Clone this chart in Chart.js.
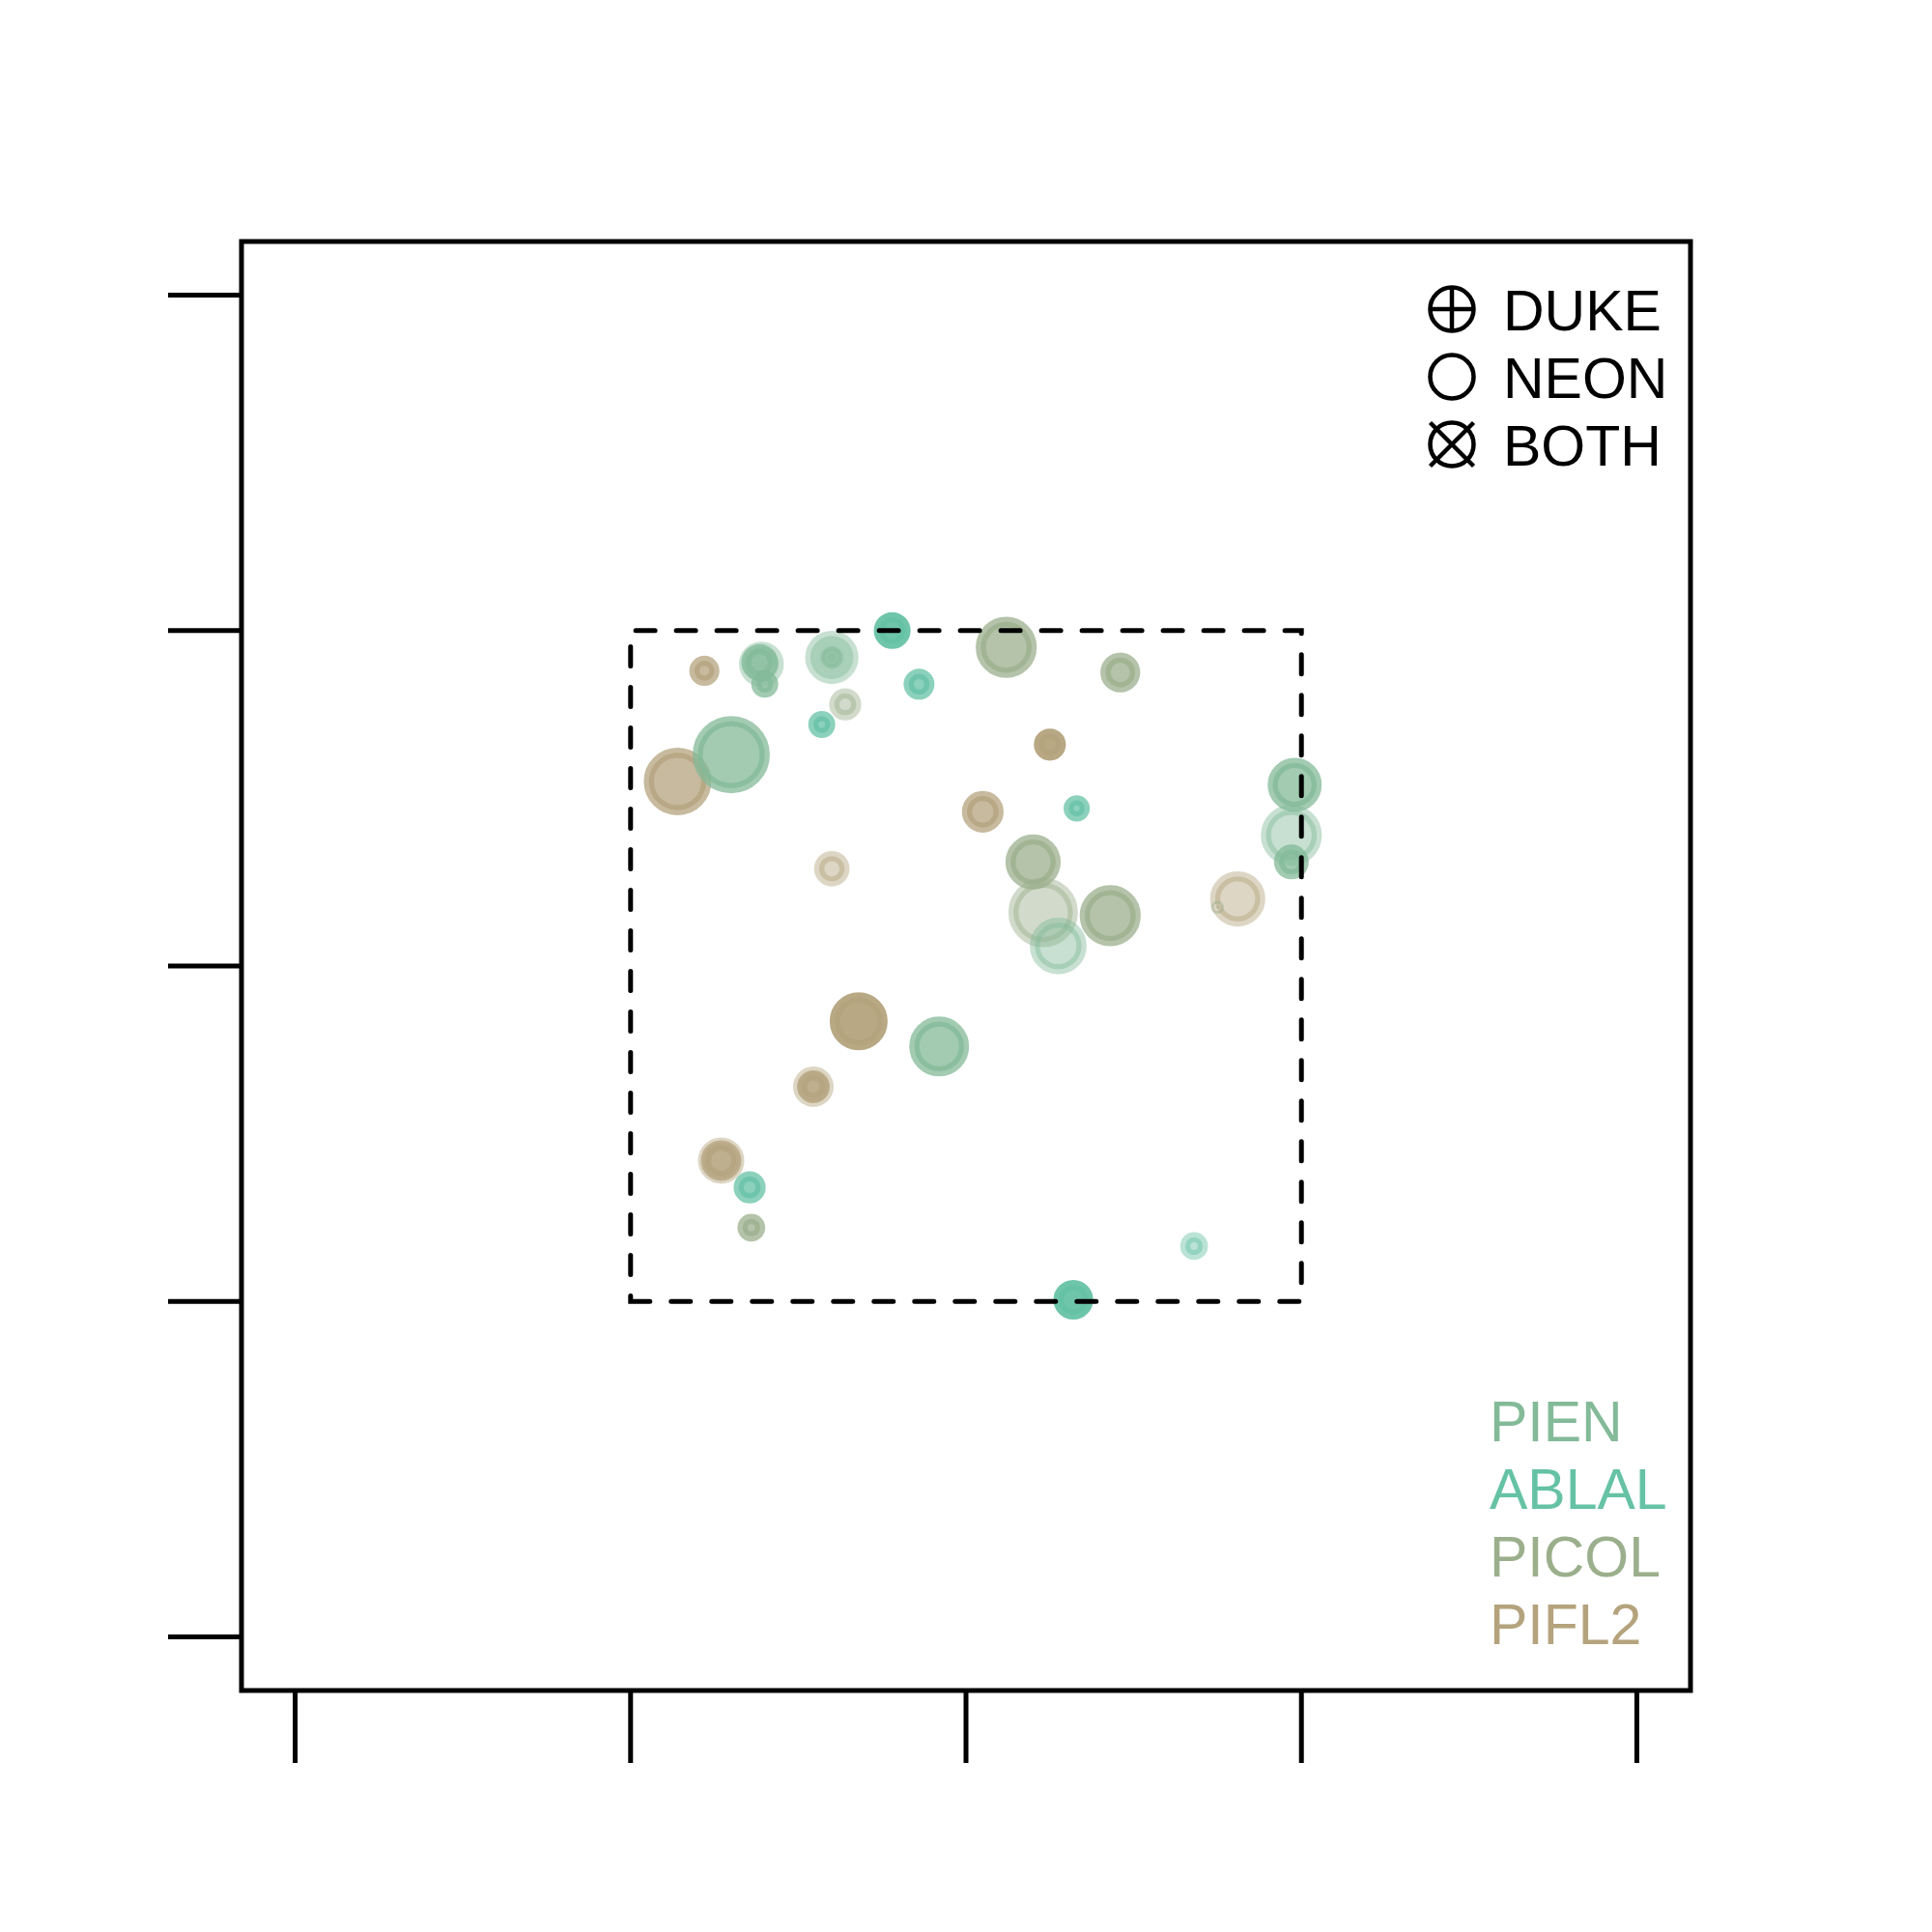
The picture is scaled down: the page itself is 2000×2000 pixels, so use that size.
<!DOCTYPE html>
<html>
<head>
<meta charset="utf-8">
<script src="https://cdn.jsdelivr.net/npm/chart.js@4/dist/chart.umd.min.js"></script>
<style>
  body { margin: 0; background: #fff; }
  canvas { display: block; }
</style>
</head>
<body>
<canvas id="stems" width="2000" height="2000"></canvas>
<script>
// stem map, 40 x 40 m plot with the 20 x 20 m subplot dashed
const speciesNames = ["PIEN", "ABLAL", "PICOL", "PIFL2"];
const speciesColors = ["rgb(131,186,152)", "rgb(102,194,165)", "rgb(155,175,140)", "rgb(180,163,125)"];
const sourceNames = ["DUKE", "NEON", "BOTH"];
const tickValues = [0, 10, 20, 30, 40];
const plotRange = [0, 40];
const subplot = [10, 30];

const species = ["PIFL2","PIEN","PIEN","PIEN","PIEN","PIEN","PIEN","ABLAL","PICOL","ABLAL","ABLAL",
  "PIEN","PIFL2","PIFL2","PIFL2","PICOL","PICOL","PIFL2","ABLAL","PIEN","PIEN","PIEN",
  "PICOL","PICOL","PIEN","PICOL","PIFL2","PICOL","PIFL2","PIEN","PIFL2","PIFL2",
  "PIFL2","PIFL2","ABLAL","PICOL","ABLAL","ABLAL"];
const xs = [12.2, 13.9, 13.85, 14.0, 16.0, 16.0, 16.0, 17.8, 16.4, 15.7, 18.6,
  13.0, 11.4, 20.5, 16.0, 21.2, 24.6, 22.5, 23.3, 29.8, 29.7, 29.7,
  22.0, 22.3, 22.75, 24.3, 28.1, 27.5, 16.8, 19.2, 15.45, 15.45,
  12.7, 12.7, 13.55, 13.6, 23.2, 26.8];
const ys = [28.8, 29.0, 29.05, 28.4, 29.2, 29.2, 29.2, 30.0, 27.8, 27.2, 28.4,
  26.3, 25.5, 24.6, 22.9, 29.5, 28.75, 26.6, 24.7, 25.4, 23.9, 23.1,
  23.1, 21.6, 20.6, 21.5, 22.0, 21.75, 18.35, 17.6, 16.4, 16.4,
  14.2, 14.2, 13.4, 12.2, 10.05, 11.65];
const dbh = [7.8, 11.6, 9.5, 7.0, 13.8, 8.5, 5.0, 9.5, 8.3, 7.0, 8.0,
  20.0, 17.5, 10.8, 9.2, 15.8, 10.3, 8.3, 6.8, 14.0, 15.8, 9.0,
  14.3, 18.0, 14.7, 15.8, 14.3, 3.4, 15.0, 15.5, 10.5, 8.5,
  12.0, 10.5, 8.3, 7.2, 10.3, 7.2];
const vigor = [2, 1, 2, 2, 1, 1, 1, 3, 1, 2, 2,
  2, 2, 2, 1, 2, 2, 3, 2, 2, 1, 2,
  2, 1, 1, 2, 1, 1, 3, 2, 1, 2,
  1, 2, 2, 2, 3, 1];

const alphaByVigor = {1: 0.45, 2: 0.75, 3: 0.95};
const ringWidth = 10.5;

function withAlpha(rgb, a) {
  return rgb.replace("rgb(", "rgba(").replace(")", "," + a + ")");
}

const datasets = speciesNames.map((name, si) => {
  const pts = [];
  const cols = [];
  species.forEach((s, i) => {
    if (s !== name) return;
    pts.push({x: xs[i], y: ys[i], r: Math.max(dbh[i] * 2 - ringWidth / 2, 0.5)});
    cols.push(withAlpha(speciesColors[si], alphaByVigor[vigor[i]]));
  });
  return {
    label: name,
    data: pts,
    backgroundColor: cols,
    borderColor: cols,
    borderWidth: ringWidth,
    hoverBorderWidth: ringWidth
  };
});

const frame = {
  id: "frame",
  afterDraw(chart) {
    const ctx = chart.ctx;
    const a = chart.chartArea;
    const xs_ = chart.scales.x, ys_ = chart.scales.y;
    ctx.save();
    ctx.strokeStyle = "#000";
    ctx.lineCap = "butt";

    // ticks
    ctx.lineWidth = 5;
    tickValues.forEach(v => {
      const px = xs_.getPixelForValue(v);
      ctx.beginPath(); ctx.moveTo(px, a.bottom); ctx.lineTo(px, a.bottom + 75); ctx.stroke();
      const py = ys_.getPixelForValue(v);
      ctx.beginPath(); ctx.moveTo(a.left - 76, py); ctx.lineTo(a.left, py); ctx.stroke();
    });

    // box
    ctx.lineWidth = 5;
    ctx.strokeRect(a.left, a.top, a.right - a.left, a.bottom - a.top);

    // subplot
    const x0 = xs_.getPixelForValue(subplot[0]), x1 = xs_.getPixelForValue(subplot[1]);
    const y0 = ys_.getPixelForValue(subplot[0]), y1 = ys_.getPixelForValue(subplot[1]);
    ctx.lineWidth = 5;
    ctx.lineCap = "round";
    ctx.setLineDash([20, 22]);
    ctx.beginPath();
    ctx.moveTo(x0, y0); ctx.lineTo(x1, y0); ctx.lineTo(x1, y1); ctx.lineTo(x0, y1); ctx.closePath();
    ctx.stroke();
    ctx.setLineDash([]);
    ctx.lineCap = "butt";

    // source legend
    ctx.font = "59px 'Liberation Sans', Arial, sans-serif";
    ctx.textBaseline = "alphabetic";
    ctx.textAlign = "left";
    ctx.fillStyle = "#000";
    ctx.lineWidth = 4.5;
    sourceNames.forEach((s, i) => {
      const cx = 1503, cy = 320 + i * 70, r = 22.5;
      ctx.beginPath(); ctx.arc(cx, cy, r, 0, Math.PI * 2); ctx.stroke();
      if (s === "DUKE") {
        ctx.beginPath();
        ctx.moveTo(cx - r, cy); ctx.lineTo(cx + r, cy);
        ctx.moveTo(cx, cy - r); ctx.lineTo(cx, cy + r);
        ctx.stroke();
      } else if (s === "BOTH") {
        ctx.beginPath();
        ctx.moveTo(cx - r, cy - r); ctx.lineTo(cx + r, cy + r);
        ctx.moveTo(cx + r, cy - r); ctx.lineTo(cx - r, cy + r);
        ctx.stroke();
      }
      ctx.fillText(s, 1556, 342 + i * 70);
    });

    // species legend
    speciesNames.forEach((s, i) => {
      ctx.fillStyle = speciesColors[i];
      ctx.fillText(s, 1542, 1492 + i * 70);
    });
    ctx.restore();
  }
};

const stemChart = new Chart(
  document.getElementById("stems"),
  {
    type: "bubble",
    data: {datasets: datasets},
    options: {
      responsive: false,
      animation: false,
      devicePixelRatio: 1,
      layout: {padding: {left: 250, right: 250, top: 250, bottom: 250}},
      scales: {
        x: {type: "linear", display: false, min: plotRange[0] - 1.6, max: plotRange[1] + 1.6},
        y: {type: "linear", display: false, min: plotRange[0] - 1.6, max: plotRange[1] + 1.6}
      },
      plugins: {legend: {display: false}, tooltip: {enabled: false}}
    },
    plugins: [frame]
  }
);
</script>
</body>
</html>
